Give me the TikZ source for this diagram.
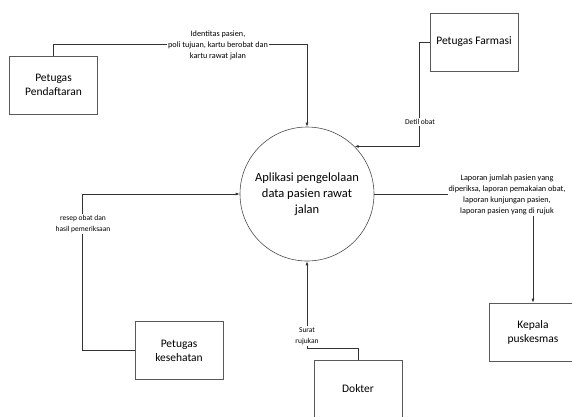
\documentclass[tikz,border=0pt]{standalone}
\usepackage{fontspec}
\setmainfont{Carlito}
\usetikzlibrary{arrows.meta}
\usetikzlibrary{calc}

\begin{document}
\begin{tikzpicture}[x=1pt,y=-1pt,
    entitas/.style={draw=black!65,line width=0.7pt,minimum width=88pt,minimum height=58pt,inner sep=0pt,align=center,font=\fontsize{11.5}{14}\selectfont},
    alur/.style={draw=black!80,line width=0.7pt},
    panah/.style={alur,-{Latex[length=4pt,width=3pt]}},
    ket/.style={fill=white,inner sep=1pt,align=center,font=\fontsize{7.5}{11}\selectfont},
    ketbesar/.style={ket,font=\fontsize{8.2}{11}\selectfont}]
    \useasboundingbox (0,0) rectangle (572,416);
    % proses
    \node[circle,draw=black!70,line width=0.6pt,minimum size=134pt,inner sep=0pt,align=center,font=\fontsize{12.5}{16}\selectfont] (P) at (307,194) {Aplikasi pengelolaan\\data pasien rawat\\jalan};
    % entitas luar
    \node[entitas] (A) at (53.5,85) {Petugas\\Pendaftaran};
    \node[entitas] (B) at (474,42) {Petugas Farmasi};
    \node[entitas] (K) at (179,350.5) {Petugas\\kesehatan};
    \node[entitas] (D) at (358,389) {Dokter};
    \node[entitas] (L) at (533,332) {Kepala\\puskesmas};
    % aliran data
    \draw[panah] (A.north) -- ++(0,-11) -| (P.north);
    \node[ketbesar] (la) at (218,45) {Identitas pasien,\\poli tujuan, kartu berobat dan\\kartu rawat jalan};
    \draw[panah] (B.west) -- ++(-10,0) |- (P.45);
    \node[ket] (lb) at (420,122) {Detil obat};
    \draw[panah] (K.west) -- ++(-52,0) |- (P.west);
    \node[ket] (lk) at (83,224) {resep obat dan\\hasil pemeriksaan};
    \draw[panah] (D.north) -- ++(0,-11) -| (P.south);
    \node[ket] (ld) at (307,336) {Surat\\rujukan};
    \draw[panah] (P.east) -| (L.north);
    \node[ketbesar] (ll) at (507,195) {Laporan jumlah pasien yang\\diperiksa, laporan pemakaian obat,\\laporan kunjungan pasien,\\laporan pasien yang di rujuk};
\end{tikzpicture}
\end{document}
